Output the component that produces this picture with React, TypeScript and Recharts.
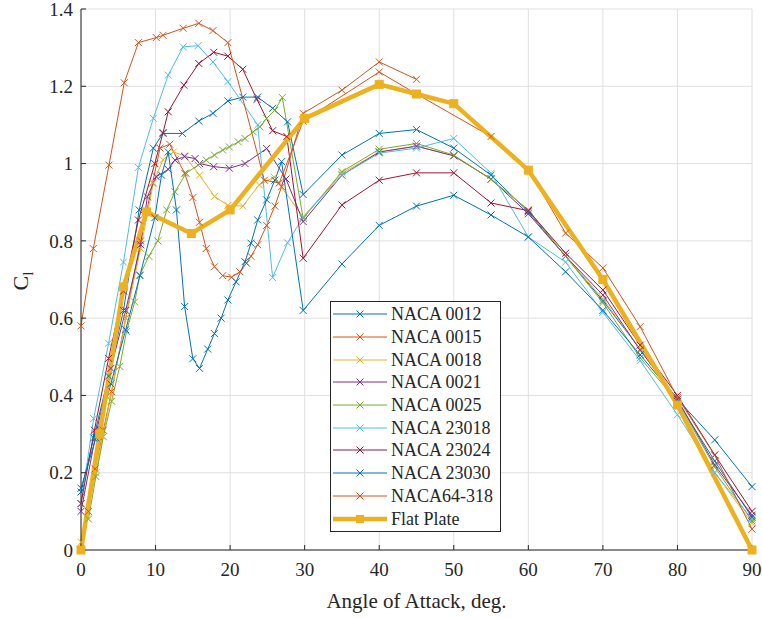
import { LineChart, Line, XAxis, YAxis, CartesianGrid, Legend } from 'recharts';

type Pt = [number, number];

// [angle of attack (deg), lift coefficient]
const naca0012: Pt[] = [
  [0, 0.15], [1.7, 0.29], [3.7, 0.45], [5.7, 0.62], [7.8, 0.88], [9.7, 1.04], [11, 1.078],
  [13.6, 1.078], [15.8, 1.11], [17.7, 1.13], [19.7, 1.162], [21.7, 1.172], [23.7, 1.172],
  [25.7, 1.143], [27.7, 1.108], [29.8, 0.92], [35, 1.022], [40, 1.078], [45, 1.088],
  [50, 1.04], [55, 0.97], [60, 0.875], [65, 0.76], [70, 0.645], [75, 0.52], [80, 0.385],
  [85, 0.23], [90, 0.085],
];
const naca0015: Pt[] = [
  [0, 0], [1, 0.1], [1.9, 0.21], [3, 0.31], [4.1, 0.41], [6, 0.6], [8, 0.8], [9.6, 0.95],
  [10.6, 1.04], [11.9, 1.05], [13.9, 0.975], [15, 0.912], [15.9, 0.848], [16.8, 0.78],
  [17.9, 0.733], [19, 0.71], [20.2, 0.706], [21.3, 0.72], [22.2, 0.742], [22.8, 0.76],
  [23.7, 0.79], [24.9, 0.84], [26, 0.89], [26.9, 0.94], [29.8, 1.13], [35, 1.19],
  [40, 1.263], [45, 1.218],
];
const naca0018: Pt[] = [
  [0, 0.02], [2, 0.2], [4, 0.4], [6, 0.6], [8, 0.78], [9.7, 0.95], [11, 1.01], [12.4, 1.03],
  [13.9, 1.02], [15.9, 0.97], [17.9, 0.915], [19.7, 0.892], [21.7, 0.89], [23.9, 0.945],
  [25.9, 0.965], [29.8, 0.862], [35, 0.975], [40, 1.03], [45, 1.045], [50, 1.02], [55, 0.96],
  [60, 0.88], [65, 0.76], [70, 0.65], [75, 0.52], [80, 0.38], [85, 0.2], [90, 0.07],
];
const naca0021: Pt[] = [
  [0, 0.1], [2, 0.3], [4, 0.47], [6, 0.62], [8, 0.79], [8.9, 0.914], [10.1, 0.966],
  [11.7, 0.985], [12.6, 1.009], [13.9, 1.018], [15.3, 1.013], [15.9, 1.0], [17.8, 0.992],
  [19.9, 0.988], [22, 1.0], [24.9, 1.039], [27.5, 0.96], [29.8, 0.85], [35, 0.97],
  [40, 1.03], [45, 1.045], [50, 1.02], [55, 0.96], [60, 0.87], [65, 0.76], [70, 0.66],
  [75, 0.517], [80, 0.39], [85, 0.22], [90, 0.09],
];
const naca0025: Pt[] = [
  [1, 0.08], [2, 0.19], [3, 0.293], [4.1, 0.385], [5.2, 0.475], [6.1, 0.565], [7.2, 0.642],
  [7.9, 0.712], [9.1, 0.76], [10.3, 0.8], [11.5, 0.88], [12.6, 0.927], [14.1, 0.975],
  [15.7, 0.996], [16.8, 1.009], [17.9, 1.022], [19, 1.035], [19.9, 1.043], [21.1, 1.056],
  [22, 1.065], [23.1, 1.082], [24, 1.095], [24.9, 1.117], [26, 1.138], [27, 1.171],
  [29.8, 0.858], [35, 0.979], [40, 1.037], [45, 1.052], [50, 1.022], [55, 0.959],
  [60, 0.88], [65, 0.76], [70, 0.64], [75, 0.497], [80, 0.385], [85, 0.215], [90, 0.075],
];
const naca23018: Pt[] = [
  [0, 0.12], [1.7, 0.34], [3.7, 0.535], [5.7, 0.745], [7.7, 0.99], [9.7, 1.117],
  [11.7, 1.229], [13.7, 1.302], [15.7, 1.305], [17.7, 1.263], [19.7, 1.212], [23.7, 1.1],
  [25.7, 0.705], [27.7, 0.795], [29.8, 0.862], [35, 0.97], [40, 1.027], [45, 1.04],
  [50, 1.065], [55, 0.975], [60, 0.81], [65, 0.745], [70, 0.615], [75, 0.49], [80, 0.35],
  [85, 0.2], [90, 0.08],
];
const naca23024: Pt[] = [
  [0, 0.12], [1.8, 0.31], [3.7, 0.496], [5.7, 0.67], [7.7, 0.854], [9.9, 1.0], [11, 1.08],
  [11.7, 1.134], [13.8, 1.203], [15.8, 1.259], [17.8, 1.288], [19.7, 1.278], [21.7, 1.244],
  [23.6, 1.166], [25.7, 1.085], [27.6, 1.07], [29.8, 0.755], [35, 0.893], [40, 0.957],
  [45, 0.976], [50, 0.976], [55, 0.898], [60, 0.878], [65, 0.768], [70, 0.673], [75, 0.53],
  [80, 0.4], [85, 0.246], [90, 0.1],
];
const naca23030: Pt[] = [
  [0, 0.16], [2, 0.29], [4, 0.43], [6, 0.57], [7.9, 0.71], [9.9, 0.86], [10.8, 0.97],
  [11.7, 1.03], [12.8, 0.88], [13.9, 0.63], [15, 0.495], [15.9, 0.47], [17, 0.52],
  [17.9, 0.56], [18.8, 0.6], [19.7, 0.647], [20.8, 0.694], [22, 0.746], [22.8, 0.794],
  [23.7, 0.854], [24.9, 0.906], [26, 0.957], [26.9, 1.005], [29.8, 0.62], [35, 0.74],
  [40, 0.84], [45, 0.89], [50, 0.918], [55, 0.867], [60, 0.81], [65, 0.72], [70, 0.62],
  [75, 0.505], [80, 0.39], [85, 0.285], [90, 0.164],
];
const naca64318: Pt[] = [
  [0, 0.58], [1.65, 0.78], [3.75, 0.996], [5.8, 1.209], [7.7, 1.313], [10.1, 1.326],
  [11, 1.332], [13.7, 1.35], [15.8, 1.363], [17.7, 1.344], [19.7, 1.313], [24.6, 0.957],
  [26.6, 0.95], [29.8, 1.11], [40, 1.237], [45, 1.18], [55, 1.07], [60, 0.985], [65, 0.82],
  [70, 0.73], [75, 0.578], [80, 0.395], [85, 0.245], [90, 0.054],
];
const flatPlate: Pt[] = [
  [0, 0], [2.5, 0.3], [5.7, 0.681], [8.8, 0.875], [14.8, 0.819], [20, 0.88], [30, 1.117],
  [40, 1.205], [45, 1.18], [50, 1.155], [60, 0.983], [70, 0.7], [80, 0.375], [90, 0],
];

const xTicks = [0, 10, 20, 30, 40, 50, 60, 70, 80, 90];
const yTicks = [0, 0.2, 0.4, 0.6, 0.8, 1, 1.2, 1.4];

const series = [
  { name: 'NACA 0012', points: naca0012, color: '#0072BD' },
  { name: 'NACA 0015', points: naca0015, color: '#D95319' },
  { name: 'NACA 0018', points: naca0018, color: '#EDB120' },
  { name: 'NACA 0021', points: naca0021, color: '#7E2F8E' },
  { name: 'NACA 0025', points: naca0025, color: '#77AC30' },
  { name: 'NACA 23018', points: naca23018, color: '#4DBEEE' },
  { name: 'NACA 23024', points: naca23024, color: '#A2142F' },
  { name: 'NACA 23030', points: naca23030, color: '#0072BD' },
  { name: 'NACA64-318', points: naca64318, color: '#D95319' },
];
const plateColor = '#EDB120';

const FONT = 'Liberation Serif, Tinos, Times New Roman, DejaVu Serif, Noto Serif, serif';
const INK = '#262626';

const toRows = (pts: Pt[]) => pts.map(([aoa, cl]) => ({ aoa, cl }));

function Cross(props: any) {
  const { cx, cy, stroke, index } = props;
  if (cx == null || cy == null) return <g key={index} />;
  const s = 3.5;
  return (
    <path
      key={index}
      d={`M${cx - s},${cy - s}L${cx + s},${cy + s}M${cx - s},${cy + s}L${cx + s},${cy - s}`}
      stroke={stroke}
      strokeWidth={1}
      fill="none"
    />
  );
}

function Square(props: any) {
  const { cx, cy, index } = props;
  if (cx == null || cy == null) return <g key={index} />;
  return <rect key={index} x={cx - 4} y={cy - 4} width={8} height={8} fill={plateColor} stroke={plateColor} />;
}

function LegendBox() {
  const rows = [...series.map((s) => ({ name: s.name, color: s.color, plate: false })), { name: 'Flat Plate', color: plateColor, plate: true }];
  return (
    <div
      style={{
        width: 171,
        boxSizing: 'border-box',
        border: `1px solid ${INK}`,
        background: '#fff',
        padding: '1px 0',
        fontFamily: FONT,
        fontSize: 18,
        color: INK,
        lineHeight: 1,
      }}
    >
      {rows.map((r) => (
        <div key={r.name} style={{ display: 'flex', alignItems: 'center', height: 22.7 }}>
          <svg width={58} height={20} style={{ flex: 'none' }}>
            <line x1={2} x2={56} y1={10} y2={10} stroke={r.color} strokeWidth={r.plate ? 4.5 : 1} />
            {r.plate ? (
              <rect x={25} y={6} width={8} height={8} fill={r.color} />
            ) : (
              <path d="M25.5,6.5L32.5,13.5M25.5,13.5L32.5,6.5" stroke={r.color} strokeWidth={1} />
            )}
          </svg>
          <span style={{ marginLeft: 2, whiteSpace: 'nowrap' }}>{r.name}</span>
        </div>
      ))}
    </div>
  );
}

function YLabel() {
  return (
    <text transform="translate(28,281) rotate(-90)" textAnchor="middle" fill={INK} fontFamily={FONT} fontSize={22}>
      C<tspan dy={5} fontSize={15}>l</tspan>
    </text>
  );
}

export default function App() {
  const tickStyle = { fill: INK, fontSize: 19, fontFamily: FONT };
  return (
    <div style={{ position: 'absolute', left: 0, top: 0, background: '#fff', fontFamily: FONT }}>
      <LineChart width={762} height={619} margin={{ top: 9, right: 10, bottom: 0, left: 0 }}>
        <CartesianGrid stroke="#e0e0e0" />
        <XAxis
          type="number"
          dataKey="aoa"
          domain={[0, 90]}
          ticks={xTicks}
          interval={0}
          height={69}
          tick={tickStyle}
          tickSize={-5}
          tickMargin={18}
          stroke={INK}
          label={{ value: 'Angle of Attack, deg.', position: 'insideBottom', offset: 11, fill: INK, fontSize: 21, fontFamily: FONT }}
        />
        <YAxis
          type="number"
          domain={[0, 1.4]}
          ticks={yTicks}
          interval={0}
          width={81}
          tick={tickStyle}
          tickSize={-5}
          tickMargin={13}
          stroke={INK}
          tickFormatter={(v: number) => String(Number(v.toFixed(1)))}
          label={{ content: () => <YLabel /> }}
        />
        {series.map((s) => (
          <Line
            key={s.name}
            name={s.name}
            data={toRows(s.points)}
            dataKey="cl"
            stroke={s.color}
            strokeWidth={1}
            dot={(p: any) => <Cross {...p} key={p.index} stroke={s.color} />}
            activeDot={false}
            isAnimationActive={false}
          />
        ))}
        <Line
          name="Flat Plate"
          data={toRows(flatPlate)}
          dataKey="cl"
          stroke={plateColor}
          strokeWidth={4.5}
          dot={(p: any) => <Square {...p} key={p.index} />}
          activeDot={false}
          isAnimationActive={false}
        />
        <Legend
          layout="vertical"
          align="center"
          verticalAlign="middle"
          wrapperStyle={{ left: 330, top: 301 }}
          content={() => <LegendBox />}
        />
      </LineChart>
    </div>
  );
}
